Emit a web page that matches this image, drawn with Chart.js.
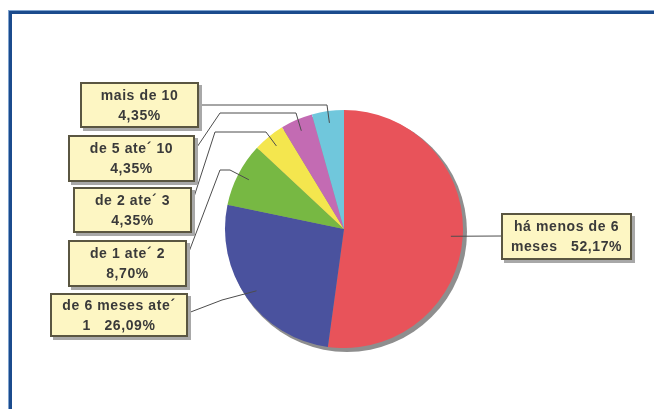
<!DOCTYPE html>
<html>
<head>
<meta charset="utf-8">
<script src="https://cdn.jsdelivr.net/npm/chart.js@4.4.1/dist/chart.umd.min.js"></script>
<style>
  html, body { margin: 0; padding: 0; background: #fff; }
  #pie { display: block; }
</style>
</head>
<body>
<canvas id="pie" width="654" height="409"></canvas>
<script>
// categories in clockwise order from 12 o'clock, "\n" marks where the box text wraps
const categories = ["há menos de 6\nmeses", "de 6 meses ate´\n1", "de 1 ate´ 2", "de 2 ate´ 3", "de 5 ate´ 10", "mais de 10"];
const shares = [52.17, 26.09, 8.70, 4.35, 4.35, 4.35];
const sliceColors = ["#e8535a", "#4a529e", "#77b843", "#f4e64e", "#c36bb3", "#70c7dc"];

// label boxes + elbow points of leader lines (the last point is the slice anchor, computed)
const boxes = [
    { x: 501, y: 213, w: 131, h: 47, path: [[501, 236]] },
    { x: 50, y: 293, w: 138, h: 44, path: [[188, 313], [222, 300]] },
    { x: 68, y: 240, w: 119, h: 47, path: [[187, 257], [220, 170], [230, 170]] },
    { x: 73, y: 187, w: 119, h: 46, path: [[192, 203], [215, 132], [266, 132]] },
    { x: 68, y: 135, w: 127, h: 47, path: [[195, 150], [220, 113], [296, 113]] },
    { x: 80, y: 82, w: 119, h: 46, path: [[199, 105], [327, 105]] },
];

const pct = (v) => v.toFixed(2).replace(".", ",") + "%";

const calloutPlugin = {
    id: "callouts",
    beforeDraw(chart) {
        const ctx = chart.ctx;
        ctx.save();
        // blue frame (only top and left edges are inside the picture)
        ctx.fillStyle = "#7fa3cf";
        ctx.fillRect(8, 10, 646, 5);
        ctx.fillRect(8, 10, 5, 399);
        ctx.fillStyle = "#1b4b8d";
        ctx.fillRect(9, 11, 645, 3);
        ctx.fillRect(9, 11, 3, 398);
        ctx.fillStyle = "#fff";
        ctx.fillRect(12, 14, 642, 395);
        ctx.restore();
    },
    beforeDatasetsDraw(chart) {
        const arc = chart.getDatasetMeta(0).data[0];
        if (!arc) return;
        const { x, y, outerRadius } = arc.getProps(["x", "y", "outerRadius"], true);
        const ctx = chart.ctx;
        ctx.save();
        ctx.fillStyle = "#8e8e8e";
        ctx.beginPath();
        ctx.arc(x + 3, y + 3, outerRadius + 1, 0, Math.PI * 2);
        ctx.fill();
        ctx.restore();
    },
    afterDatasetsDraw(chart) {
        const ctx = chart.ctx;
        const arcs = chart.getDatasetMeta(0).data;
        ctx.save();
        arcs.forEach((arc, i) => {
            const p = arc.getProps(["x", "y", "startAngle", "endAngle", "outerRadius"], true);
            const mid = (p.startAngle + p.endAngle) / 2;
            const ax = p.x + Math.cos(mid) * p.outerRadius * 0.9;
            const ay = p.y + Math.sin(mid) * p.outerRadius * 0.9;
            const b = boxes[i];

            // leader line
            ctx.strokeStyle = "#4d4d4d";
            ctx.lineWidth = 1;
            ctx.beginPath();
            b.path.forEach(([px, py], k) => (k === 0 ? ctx.moveTo(px, py) : ctx.lineTo(px, py)));
            ctx.lineTo(ax, ay);
            ctx.stroke();

            // box with shadow
            ctx.fillStyle = "#a8a8a8";
            ctx.fillRect(b.x + 3, b.y + 3, b.w, b.h);
            ctx.fillStyle = "#fdf6c3";
            ctx.fillRect(b.x, b.y, b.w, b.h);
            ctx.strokeStyle = "#5a5641";
            ctx.lineWidth = 2;
            ctx.strokeRect(b.x + 1, b.y + 1, b.w - 2, b.h - 2);

            // text
            const parts = categories[i].split("\n");
            const lines = parts.length > 1 ? [parts[0], parts[1] + "   " + pct(shares[i])] : [parts[0], pct(shares[i])];
            ctx.fillStyle = "#3a3a3a";
            ctx.font = "bold 14px 'Liberation Sans', Arial, sans-serif";
            ctx.letterSpacing = "0.6px";
            ctx.textAlign = "center";
            ctx.textBaseline = "middle";
            const cx = b.x + b.w / 2;
            const cy = b.y + b.h / 2 + 1;
            ctx.fillText(lines[0], cx, cy - 10);
            ctx.fillText(lines[1], cx, cy + 10);
        });
        ctx.restore();
    },
};

const pie = document.getElementById("pie");
const pieChart = new Chart(pie, {
    type: "pie",
    data: {
        labels: categories.map((c) => c.replace("\n", " ")),
        datasets: [
            {
                data: shares,
                backgroundColor: sliceColors,
                borderWidth: 0,
                hoverOffset: 0,
            },
        ],
    },
    options: {
        responsive: false,
        animation: false,
        layout: {
            padding: { left: 225, right: 191, top: 110, bottom: 61 },
        },
        plugins: {
            legend: { display: false },
            tooltip: { enabled: false },
        },
    },
    plugins: [calloutPlugin],
});
</script>
</body>
</html>
